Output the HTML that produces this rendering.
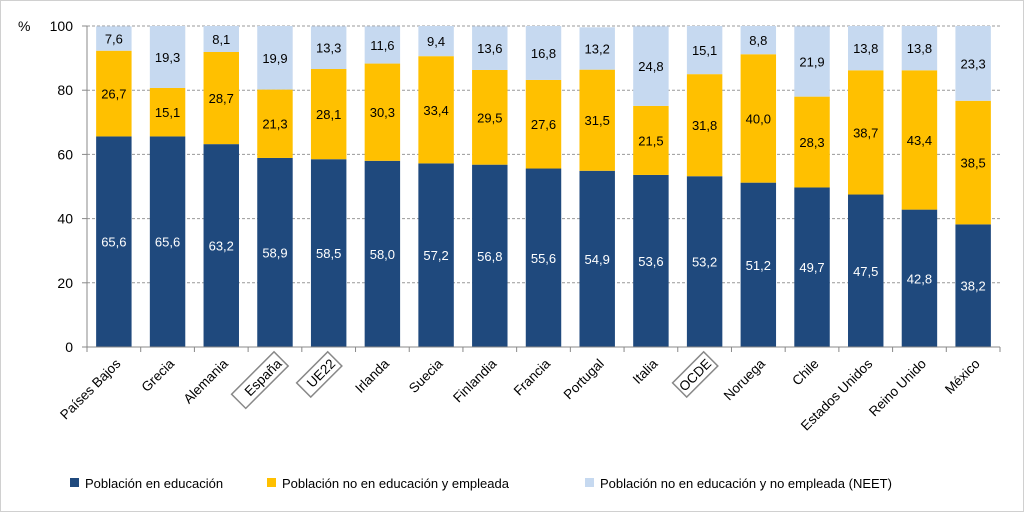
<!DOCTYPE html>
<html><head><meta charset="utf-8"><style>
body{margin:0;background:#fff;}
svg{display:block;font-family:"Liberation Sans",Arial,sans-serif;}
</style></head><body>
<svg id="chart" width="1024" height="512" viewBox="0 0 1024 512">
<rect x="0.5" y="0.5" width="1023" height="511" fill="#fff" stroke="#d0d0d0"/>
<g id="grid"></g><g id="bars"></g><g id="axes"></g><g id="labels"></g>
<text x="18" y="31" font-size="14" fill="#000">%</text>
<g>
<rect x="70" y="478" width="9" height="9" fill="#1f497d"/>
<text x="85" y="488" font-size="13">Población en educación</text>
<rect x="267" y="478" width="9" height="9" fill="#ffc000"/>
<text x="282" y="488" font-size="13">Población no en educación y empleada</text>
<rect x="585" y="478" width="9" height="9" fill="#c6d9f0"/>
<text x="600" y="488" font-size="13">Población no en educación y no empleada (NEET)</text>
</g>
</svg>
<script>
const categories=["Países Bajos","Grecia","Alemania","España","UE22","Irlanda","Suecia","Finlandia","Francia","Portugal","Italia","OCDE","Noruega","Chile","Estados Unidos","Reino Unido","México","Brasil"].slice(0,17);
const education=[65.6,65.6,63.2,58.9,58.5,58.0,57.2,56.8,55.6,54.9,53.6,53.2,51.2,49.7,47.5,42.8,38.2,33.8];
const employed=[26.7,15.1,28.7,21.3,28.1,30.3,33.4,29.5,27.6,31.5,21.5,31.8,40.0,28.3,38.7,43.4,38.5,30.3];
const neet=[7.6,19.3,8.1,19.9,13.3,11.6,9.4,13.6,16.8,13.2,24.8,15.1,8.8,21.9,13.8,13.8,23.3,35.9];
const yTicks=[0,20,40,60,80,100];
const boxed=["España","UE22","OCDE"];
const NS="http://www.w3.org/2000/svg";
const x0=87,x1=1000,yTop=26,yBot=347;
const n=categories.length,band=(x1-x0)/n,bw=band*0.66;
const y=v=>yBot-(v/100)*(yBot-yTop);
const xc=i=>x0+band*(i+0.5);
function mk(t,a,p){const e=document.createElementNS(NS,t);for(const k in a)e.setAttribute(k,a[k]);p.appendChild(e);return e;}
const G=document.getElementById('grid'),B=document.getElementById('bars'),A=document.getElementById('axes'),L=document.getElementById('labels');
yTicks.forEach(t=>{
 if(t>0){const l=mk('line',{x1:x0,x2:x1,y1:y(t),y2:y(t),stroke:'#999','stroke-dasharray':'3,2','stroke-width':1},G);
 
 }
 const tk=mk('line',{x1:x0-5,x2:x0,y1:y(t),y2:y(t),stroke:'#888'},A);
 
 
 const tx=mk('text',{x:x0-14,y:y(t)+5,'text-anchor':'end','font-size':14},A);tx.textContent=t;
 
 
});
const al=mk('line',{x1:x0,x2:x0,y1:yTop,y2:yBot,stroke:'#888'},A);


const xl=mk('line',{x1:x0,x2:x1,y1:yBot,y2:yBot,stroke:'#888'},A);


for(let i=0;i<=n;i++){const tk=mk('line',{x1:x0+band*i,x2:x0+band*i,y1:yBot,y2:yBot+5,stroke:'#888'},A);
 
 }
const series=[[education,'#1f497d','#fff','education'],[employed,'#ffc000','#000','employed'],[neet,'#c6d9f0','#000','neet']];
categories.forEach((c,i)=>{
 let base=0;
 series.forEach(([arr,col,tc,nm])=>{
  const v=arr[i];const top=Math.min(100,base+v);
  const r=mk('rect',{x:xc(i)-bw/2,y:y(top),width:bw,height:y(base)-y(top),fill:col},B);
  
  
  const t=mk('text',{x:xc(i),y:y((base+top)/2)+5,'text-anchor':'middle','font-size':13,fill:tc},L);
  t.textContent=v.toFixed(1).replace('.',',');
  
  
  base=top;
 });
 const g=mk('g',{transform:`translate(${xc(i)+4},${yBot+14}) rotate(-45)`},L);
 
 
 const t=mk('text',{x:0,y:5,'text-anchor':'end','font-size':13.5},g);t.textContent=c;
 if(boxed.includes(c)){
  const w=c.length*8+6;
  const r=mk('rect',{x:-w-3,y:-10,width:w+6,height:20,fill:'none',stroke:'#888','stroke-width':1.5},g);
  
  
 }
});
</script>
</body></html>
